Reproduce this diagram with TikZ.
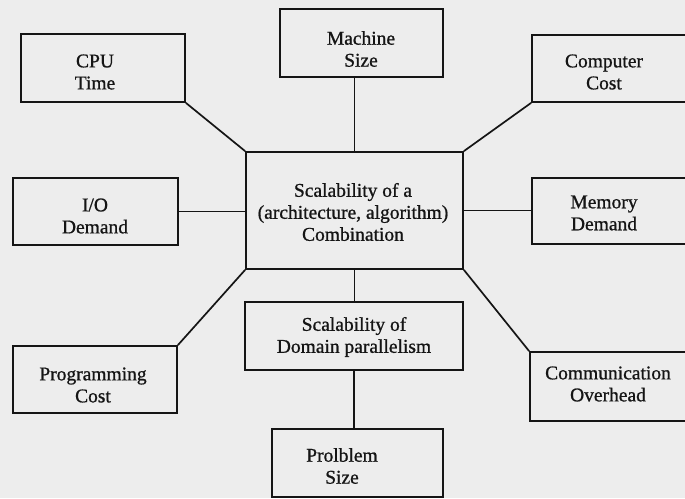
\documentclass[tikz,border=0pt]{standalone}
\usepackage{fontspec}
\setmainfont{Liberation Serif}
\newfontfamily\labelfont[FakeBold=0.9]{Liberation Serif}
\definecolor{ink}{HTML}{151515}
\definecolor{paper}{HTML}{EDEDED}
\begin{document}
\begin{tikzpicture}[x=1pt,y=-1pt,
  box/.style={draw=ink, line width=1.7pt, inner sep=0pt},
  lbl/.style={text=ink, align=center, inner sep=0pt,
              font=\labelfont\fontsize{19.5}{22}\selectfont},
  link/.style={draw=ink, line width=1.7pt}]
  % page and clipping frame
  \fill[paper] (0,0) rectangle (685,498);
  \useasboundingbox (0,0) rectangle (685,498);
  \clip (0,0) rectangle (685,498);

  % boxes
  \node[box, minimum width=217, minimum height=117] (core) at (354.5,210.5) {};
  \node[box, minimum width=164, minimum height=68]  (cpu)  at (103,68) {};
  \node[box, minimum width=165, minimum height=67]  (io)   at (95.5,211.5) {};
  \node[box, minimum width=164, minimum height=67]  (prog) at (95,379.5) {};
  \node[box, minimum width=163, minimum height=68]  (mach) at (361.5,43) {};
  \node[box, minimum width=168, minimum height=67]  (comp) at (616,68.5) {};
  \node[box, minimum width=168, minimum height=66]  (mem)  at (616,211) {};
  \node[box, minimum width=170, minimum height=69]  (comm) at (615,386.5) {};
  \node[box, minimum width=218, minimum height=68]  (dom)  at (354,336) {};
  \node[box, minimum width=171, minimum height=68]  (prob) at (357.5,463) {};

  % labels
  \node[lbl] (core-t) at (353,212) {Scalability of a\\(architecture, algorithm)\\Combination};
  \node[lbl] (cpu-t)  at (95,72)   {CPU\\Time};
  \node[lbl] (io-t)   at (95,216)  {I/O\\Demand};
  \node[lbl] (prog-t) at (93,385)  {Programming\\Cost};
  \node[lbl] (mach-t) at (361,49)  {Machine\\Size};
  \node[lbl] (comp-t) at (604,72)  {Computer\\Cost};
  \node[lbl] (mem-t)  at (604,213) {Memory\\Demand};
  \node[lbl] (comm-t) at (608,384) {Communication\\Overhead};
  \node[lbl] (dom-t)  at (354,337) {Scalability of\\Domain parallelism};
  \node[lbl] (prob-t) at (342,466) {Prolblem\\Size};

  % connectors
  \draw[link] (cpu.south east) -- (core.north west);
  \draw[link] (comp.south west) -- (core.north east);
  \draw[link] (io.east) -- (io.east -| core.west);
  \draw[link] (core.east) -- (core.east -| mem.west);
  \draw[link] (core.north) -- (core.north |- mach.south);
  \draw[link] (core.south) -- (core.south |- dom.north);
  \draw[link] (dom.south) -- (dom.south |- prob.north);
  \draw[link] (prog.north east) -- (core.south west);
  \draw[link] (core.south east) -- (comm.north west);
\end{tikzpicture}
\end{document}
